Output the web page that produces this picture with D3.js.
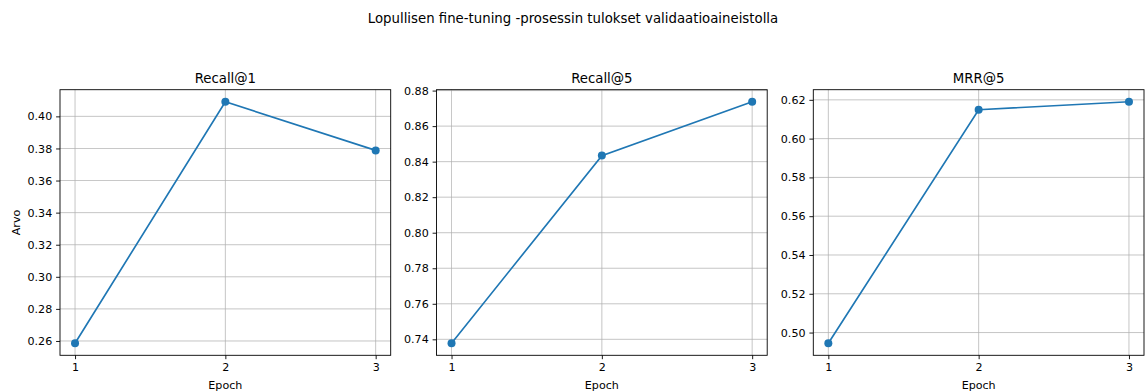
<!DOCTYPE html>
<html>
<head>
<meta charset="utf-8">
<script src="https://cdn.jsdelivr.net/npm/d3@7"></script>
<style>
  body { margin: 0; background: #fff; }
  text { font-family: "DejaVu Sans", sans-serif; fill: #000; }
</style>
</head>
<body>
<svg id="chart" width="1147" height="392"></svg>
<script>
const epochs = [1, 2, 3];
const panelTitles = ["Recall@1", "Recall@5", "MRR@5"];
const recall1 = [0.2586, 0.4091, 0.3788];
const recall5 = [0.7378, 0.8434, 0.8737];
const mrr5 = [0.4945, 0.6149, 0.6190];
const recall1Ticks = [0.26, 0.28, 0.30, 0.32, 0.34, 0.36, 0.38, 0.40];
const recall5Ticks = [0.74, 0.76, 0.78, 0.80, 0.82, 0.84, 0.86, 0.88];
const mrr5Ticks = [0.50, 0.52, 0.54, 0.56, 0.58, 0.60, 0.62];
const suptitle = "Lopullisen fine-tuning -prosessin tulokset validaatioaineistolla";
const xLabel = "Epoch";
const yLabel = "Arvo";

const series = [recall1, recall5, mrr5];
const tickSets = [recall1Ticks, recall5Ticks, mrr5Ticks];
const lefts = [60, 436.5, 813.3];
const W = 330.7, plotTop = 89.7, plotBottom = 355.3;
const color = "#1f77b4";

const svg = d3.select("#chart");

svg.append("text")
  .attr("x", 573).attr("y", 18)
  .attr("text-anchor", "middle").attr("dominant-baseline", "central")
  .style("font-size", "13.3px")
  .text(suptitle);

series.forEach((vals, i) => {
  const L = lefts[i], R = L + W;
  const x = d3.scaleLinear().domain([0.9, 3.1]).range([L, R]);
  const lo = d3.min(vals), hi = d3.max(vals), pad = (hi - lo) * 0.05;
  const y = d3.scaleLinear().domain([lo - pad, hi + pad]).range([plotBottom, plotTop]);
  const g = svg.append("g");

  // grid
  g.selectAll(".gx").data(epochs).enter().append("line")
    .attr("x1", d => x(d)).attr("x2", d => x(d))
    .attr("y1", plotTop).attr("y2", plotBottom)
    .attr("stroke", "#b0b0b0").attr("stroke-width", 0.9).attr("opacity", 0.8);
  g.selectAll(".gy").data(tickSets[i]).enter().append("line")
    .attr("y1", d => y(d)).attr("y2", d => y(d))
    .attr("x1", L).attr("x2", R)
    .attr("stroke", "#b0b0b0").attr("stroke-width", 0.9).attr("opacity", 0.8);

  // axes
  const xAxis = d3.axisBottom(x).tickValues(epochs).tickFormat(d3.format("d")).tickSize(3.9).tickPadding(3.9);
  const yAxis = d3.axisLeft(y).tickValues(tickSets[i]).tickFormat(d3.format(".2f")).tickSize(3.9).tickPadding(3.9);
  const gx = g.append("g").attr("transform", `translate(0,${plotBottom})`).call(xAxis);
  const gy = g.append("g").attr("transform", `translate(${L},0)`).call(yAxis);
  [gx, gy].forEach(a => {
    a.select(".domain").remove();
    a.selectAll(".tick line").attr("stroke", "#000").attr("stroke-width", 0.9);
    a.selectAll(".tick text").style("font-size", "11.1px").style("font-family", "DejaVu Sans").attr("fill", "#000");
  });

  // line + markers
  const pts = epochs.map((e, k) => [e, vals[k]]);
  g.append("path").datum(pts)
    .attr("fill", "none").attr("stroke", color).attr("stroke-width", 1.67)
    .attr("d", d3.line().x(d => x(d[0])).y(d => y(d[1])));
  g.selectAll(".pt").data(pts).enter().append("circle")
    .attr("cx", d => x(d[0])).attr("cy", d => y(d[1])).attr("r", 4)
    .attr("fill", color);

  // frame
  g.append("rect").attr("x", L).attr("y", plotTop).attr("width", W).attr("height", plotBottom - plotTop)
    .attr("fill", "none").attr("stroke", "#000").attr("stroke-width", 0.9);

  // titles
  g.append("text").attr("x", (L + R) / 2).attr("y", 78.5)
    .attr("text-anchor", "middle").attr("dominant-baseline", "central")
    .style("font-size", "13.3px").text(panelTitles[i]);
  g.append("text").attr("x", (L + R) / 2).attr("y", 385)
    .attr("text-anchor", "middle").attr("dominant-baseline", "central")
    .style("font-size", "11.1px").text(xLabel);
  if (i === 0) {
    g.append("text").attr("transform", `translate(16,${(plotTop + plotBottom) / 2}) rotate(-90)`)
      .attr("text-anchor", "middle").attr("dominant-baseline", "central")
      .style("font-size", "11.1px").text(yLabel);
  }
});
</script>
</body>
</html>
